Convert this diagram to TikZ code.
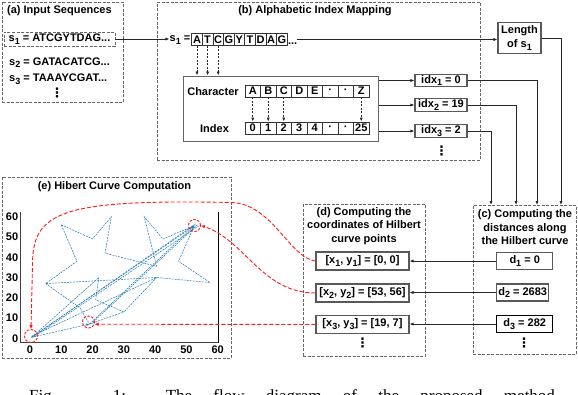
\documentclass[tikz,border=0pt]{standalone}
\usepackage{fontspec}
\setmainfont{Liberation Sans}
\newfontfamily\capfont{Liberation Serif}
\newfontfamily\dejavu{DejaVu Sans}
\usetikzlibrary{arrows.meta,calc}
\definecolor{hblue}{RGB}{31,119,180}
\newcommand{\sbx}[1]{\raisebox{-0.5ex}{\fontsize{9}{9}\selectfont #1}}
\newcommand{\vdt}{{\dejavu\bfseries\fontsize{13}{13}\selectfont ⋮}}
\begin{document}
\begin{tikzpicture}[x=1pt,y=-1pt,
  every node/.style={font=\fontsize{11}{13.5}\selectfont\bfseries},
  lbl/.style={inner sep=0pt},
  dbox/.style={draw=black!60, dash pattern=on 3pt off 1.5pt, line width=0.9pt, inner sep=0pt},
  vbox/.style={draw=black!65, line width=1.1pt, fill=white, inner sep=0.8pt, minimum height=12pt},
  cell/.style={draw=black!80, line width=0.8pt, minimum width=15.5pt, minimum height=12pt, inner sep=0pt},
  lcell/.style={draw=black!80, line width=0.8pt, minimum width=10.6pt, minimum height=12pt, inner sep=0pt},
  arr/.style={-{Latex[length=4pt,width=3.2pt]}, line width=0.9pt, draw=black!85},
  darr/.style={arr, dash pattern=on 2pt off 1.5pt},
  rline/.style={draw=red!90, dash pattern=on 4pt off 2pt, line width=0.9pt, -{Latex[length=4pt,width=3.5pt]}},
  rcirc/.style={circle, draw=red!90, dash pattern=on 2.5pt off 1.5pt, line width=0.9pt, minimum size=12pt, inner sep=0pt},
  bl/.style={draw=hblue, dash pattern=on 2pt off 1pt, line width=0.5pt},
  bla/.style={bl, -{Latex[length=3pt,width=2.5pt]}}
]
\useasboundingbox (0,0) rectangle (578,394);
\fill[white] (0,0) rectangle (578,394);

% ---------- (a)
\node[dbox, minimum width=121pt, minimum height=100pt] (boxa) at (62.5,52) {};
\node[lbl, anchor=west] (ta) at (7,10.5) {(a) Input Sequences};
\node[dbox, minimum width=111pt, minimum height=14pt] (sa1) at (59.5,39) {s\sbx{1} = ATCGYTDAG...};
\node[lbl, anchor=west] (sa2) at (9,62.7) {s\sbx{2} = GATACATCG...};
\node[lbl, anchor=west] (sa3) at (9,79.5) {s\sbx{3} = TAAAYCGAT...};
\node[lbl] (va) at (57,93) {\vdt};

% ---------- (b)
\node[dbox, minimum width=323pt, minimum height=158pt] (boxb) at (318.5,81) {};
\node[lbl] (tb) at (315,10.5) {(b) Alphabetic Index Mapping};
\node[lbl, anchor=east] (s1b) at (190.5,40) {s\sbx{1} =};
\foreach \l [count=\i from 0] in {A,T,C,G,Y,T,D,A,G}
  \node[lcell] (L\i) at ({197+10.6*\i},39.5) {\l};
\node[lbl, anchor=base west] (dots) at (287.8,44) {...};
\node[draw=black!60, line width=1pt, minimum width=195pt, minimum height=65pt] (inner) at (280.5,108.5) {};
\foreach \i in {0,1,2}
  \draw[darr] (L\i.south) -- (L\i.south |- inner.north);
\node[lbl] (chl) at (213,91.5) {Character};
\node[lbl] (ixl) at (214.5,128.5) {Index};
\foreach \l [count=\i from 0] in {A,B,C,D,E,·,·,Z}
  \node[cell] (C\i) at ({252.75+15.5*\i},91) {\l};
\foreach \l [count=\i from 0] in {0,1,2,3,4,·,·,25}
  \node[cell] (I\i) at ({252.75+15.5*\i},128) {\l};
\foreach \i in {0,1,2,7}
  \draw[darr] (C\i.south) -- (I\i.north);
\node[vbox, minimum width=52pt] (idx1) at (441,80.5) {idx\sbx{1} = 0};
\node[vbox, minimum width=52pt] (idx2) at (441,105) {idx\sbx{2} = 19};
\node[vbox, minimum width=52pt] (idx3) at (441,131) {idx\sbx{3} = 2};
\node[lbl] (vb) at (441.7,151) {\vdt};
\draw[arr] (inner.east |- idx1.west) -- (idx1.west);
\draw[arr] (inner.east |- idx2.west) -- (idx2.west);
\draw[arr] (inner.east |- idx3.west) -- (idx3.west);

% Length box
\node[vbox, align=center, minimum width=43pt, minimum height=31pt, inner sep=1pt,
      font=\fontsize{11}{14.5}\selectfont\bfseries] (len) at (519.5,38) {Length\\of s\sbx{1}};
\draw[arr] (sa1.east) -- (sa1.east -| s1b.west);
\draw[arr] (dots.east |- L8.east) -- (len.west |- L8.east);

% ---------- (c)
\node[dbox, minimum width=103pt, minimum height=149pt] (boxc) at (524.5,279.5) {};
\coordinate (e1) at (491,205);
\coordinate (e2) at (516,205);
\coordinate (e3) at (537,205);
\coordinate (e4) at (561,205);
\draw[arr] (len.east) -| (e4);
\draw[arr] (idx1.east) -| (e3);
\draw[arr] (idx2.east) -| (e2);
\draw[arr] (idx3.east) -| (e1);
\node[lbl, align=center] (tc) at (525,227.5) {(c) Computing the\\distances along\\the Hilbert curve};
\node[vbox, minimum width=56pt, minimum height=17pt] (d1) at (524.7,261) {d\sbx{1} = 0};
\node[vbox, minimum width=52pt, minimum height=17pt] (d2) at (522.7,292.5) {d\sbx{2} = 2683};
\node[vbox, draw=black, minimum width=56pt, minimum height=17pt] (d3) at (524.7,324) {d\sbx{3} = 282};
\node[lbl] (vc) at (524,343) {\vdt};

% ---------- (d)
\node[dbox, minimum width=122pt, minimum height=152pt] (boxd) at (364,280) {};
\node[lbl, align=center] (td) at (364,226) {(d) Computing the\\coordinates of Hilbert\\curve points};
\node[vbox, minimum width=93pt, minimum height=18pt] (x1) at (362.5,261) {[x\sbx{1}, y\sbx{1}] = [0, 0]};
\node[vbox, minimum width=93pt, minimum height=18pt] (x2) at (362.5,293) {[x\sbx{2}, y\sbx{2}] = [53, 56]};
\node[vbox, minimum width=93pt, minimum height=18pt] (x3) at (362.5,324.5) {[x\sbx{3}, y\sbx{3}] = [19, 7]};
\node[lbl] (vd) at (362.7,343) {\vdt};
\draw[arr] (d1.west) -- (x1.east);
\draw[arr] (d2.west) -- (d2.west -| x2.east);
\draw[arr] (d3.west) -- (d3.west -| x3.east);

% ---------- (e)
\node[dbox, minimum width=229pt, minimum height=181pt] (boxe) at (116.5,267.5) {};
\node[lbl] (te) at (114.5,186.5) {(e) Hibert Curve Computation};
\begin{scope}[shift={(30,338.3)}, x=3.128pt, y=2.027pt]
  \draw[black!75, line width=0.6pt] (-3.07,62.5) -- (-3.07,-2.17) -- (60.2,-2.17);
  \draw[black, line width=1pt] (60.2,-2.17) -- (60.2,62.5);
  \foreach \v in {0,10,...,60} {
    \node[lbl, anchor=east] (yl\v) at (-3.7,\v) {\v};
    \node[lbl] (xl\v) at (\v,-5.8) {\v};
  }
  \draw[bl] (10,56) -- (20,49) -- (26,60) -- (24,42) -- (40.5,35.5) -- (36.5,60)
     -- (42.5,49) -- (52.5,55.5) -- (47.5,38) -- (57.5,27.5) -- (40.5,30)
     -- (5,27) -- (15,38) -- cycle;
  \draw[bl] (22,30) -- (21,19) -- (30,13) -- (40.5,30);
  \draw[bl] (5,27) -- (16,15) -- (19,7);
  \draw[bl] (0.5,0.5) -- (22,30);
  \draw[bl] (0.5,0.5) -- (53,56.5);
  \draw[bl] (1,0.5) -- (54,55.5);
  \draw[bl] (0.5,1) -- (40.5,30);
  \draw[bl] (19.5,7) -- (53.5,56);
  \draw[bl] (19,7) -- (30,13);
  \draw[bla] (0.5,0.5) -- (52.5,55.5);
  \draw[bla] (0.5,0.5) -- (19,7);
  \draw[bla] (19,7) -- (52.5,55.5);
\end{scope}
\node[rcirc, minimum size=13pt] (o1) at (31,336) {};
\node[rcirc] (o2) at (88.5,322) {};
\node[rcirc] (o3) at (194.5,225.5) {};

% red connectors
\draw[rline] (x1.west) .. controls (290,258) and (272,204) .. (232,202.5)
   .. controls (60,199) and (32.5,212) .. (32.5,265) -- (o1.north);
\draw[rline] (x2.west) .. controls (262,293) and (245,240) .. (o3.east);
\draw[rline] (x3.west) -- (o2.-20);

% caption (cut by the picture's lower edge, as in the reference)
\begin{scope}
  \clip (0,0) rectangle (578,394);
  \node[inner sep=0pt, anchor=base west, font=\capfont\mdseries\fontsize{17}{17}\selectfont] (cap) at (29,401)
    {\makebox[530pt][s]{Fig. 1: The flow diagram of the proposed method.}};
\end{scope}
\end{tikzpicture}
\end{document}
